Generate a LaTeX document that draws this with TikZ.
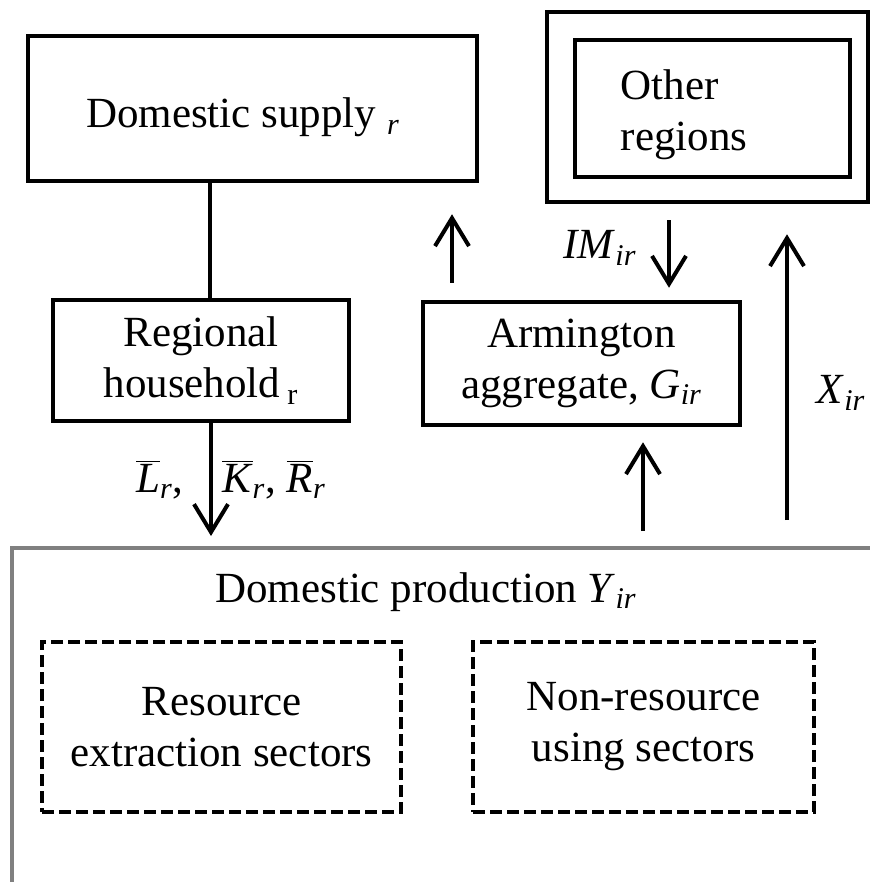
\documentclass[tikz,border=0pt]{standalone}
\usepackage{fontspec}
\setmainfont{Liberation Serif}
\usetikzlibrary{arrows.meta}
\definecolor{pgray}{RGB}{128,128,128}
\newcommand{\itsub}[2]{\textit{#1}\textsubscript{\textit{#2}}}
\newcommand{\barvar}[2]{$\overline{\mbox{\textit{#1}}}$\textsubscript{\textit{#2}}}
\begin{document}
\begin{tikzpicture}[x=0.5pt,y=-0.5pt,
  font=\fontsize{21.5pt}{25.5pt}\selectfont,
  box/.style={draw,line width=2.25pt,rectangle,align=center,inner sep=0pt},
  dbox/.style={draw,line width=1.6pt,dash pattern=on 6pt off 2.5pt,rectangle,align=center,inner sep=0pt},
  arr/.style={line width=2pt,-{Straight Barb[length=14pt,width=17pt]}},
  conn/.style={line width=2pt},
  lbl/.style={inner sep=0pt,align=left}]
\useasboundingbox (0,0) rectangle (870,882);
\begin{scope}
  \clip (0,0) rectangle (870,882);
  \node[draw=pgray,line width=2pt,rectangle,minimum width=444pt,minimum height=186pt,inner sep=0pt] (prod) at (456,734) {};
\end{scope}
\node[lbl,anchor=base] (prodtxt) at (426,602) {Domestic production \itsub{Y}{ir}};
\node[box,minimum width=224.5pt,minimum height=72.5pt] (supply) at (252.5,108.5) {};
\node[lbl,anchor=base] (supplytxt) at (243,128) {Domestic supply \textsubscript{\textit{r}}};
\node[box,minimum width=148pt,minimum height=60.5pt] (hh) at (201,360.5) {Regional\\household\,\textsubscript{r}};
\node[box,minimum width=158.5pt,minimum height=61.5pt] (arm) at (581.5,363.5) {Armington\\aggregate, \itsub{G}{ir}};
\node[box,minimum width=160.5pt,minimum height=95pt] (outer) at (707.5,107) {};
\node[box,minimum width=137.5pt,minimum height=68.5pt] (inner) at (712.5,108.5) {};
\node[lbl] (othertxt) at (684,115) {Other\\regions};
\node[dbox,minimum width=179.5pt,minimum height=85pt] (res) at (221.5,727) {Resource\\extraction sectors};
\node[dbox,minimum width=170.5pt,minimum height=85pt] (nonres) at (643.5,727) {Non-resource\\using sectors};
\coordinate (xs) at (210,0);
\coordinate (xa) at (211,0);
\coordinate (xb) at (452,0);
\coordinate (xc) at (643,0);
\coordinate (xd) at (669,0);
\coordinate (xe) at (787,0);
\draw[conn] (supply.south -| xs) -- (hh.north -| xs);
\draw[arr,shorten >=5pt] (hh.south -| xa) -- (prod.north -| xa);
\draw[arr,shorten <=7.5pt,shorten >=7.5pt] (prod.north -| xc) -- (arm.south -| xc);
\draw[arr,shorten <=8.5pt,shorten >=15.5pt] (arm.north -| xb) -- (supply.south -| xb);
\draw[arr,shorten <=8pt,shorten >=6pt] (outer.south -| xd) -- (arm.north -| xd);
\draw[arr,shorten <=13pt,shorten >=15pt] (prod.north -| xe) -- (outer.south -| xe);
\node[lbl] (lab) at (160,480) {\barvar{L}{r},};
\node[lbl] (kr) at (274,480) {\barvar{K}{r}, \barvar{R}{r}};
\node[lbl] (im) at (600,248) {\itsub{IM}{ir}};
\node[lbl] (xir) at (841,393) {\itsub{X}{ir}};
\end{tikzpicture}
\end{document}
